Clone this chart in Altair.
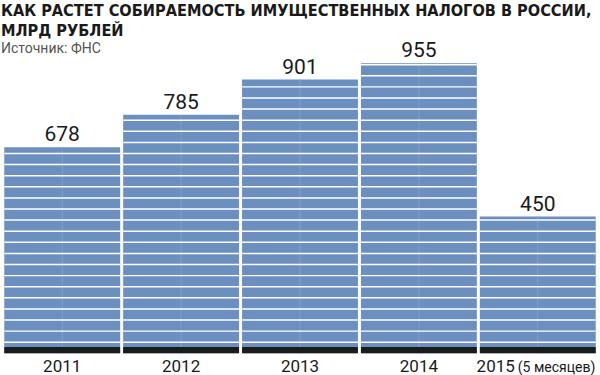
import altair as alt
import pandas as pd

# ---- data ----
years = ["2011", "2012", "2013", "2014", "2015"]
values = [678, 785, 901, 955, 450]
notes = ["", "", "", "", "(5 месяцев)"]

title_lines = ["КАК РАСТЕТ СОБИРАЕМОСТЬ ИМУЩЕСТВЕННЫХ НАЛОГОВ В РОССИИ,", "МЛРД РУБЛЕЙ"]
source_text = "Источник: ФНС"

df = pd.DataFrame({"year": years, "value": values, "note": notes})

# ---- style ----
STEP = 36.54          # stripe spacing (data units)
HALF = 2.4            # half stripe thickness (data units)
BAND = 21             # black foot band height (data units)
BLUE = "#6b8fbf"

# plot area deliberately extends slightly past the canvas edges
x = alt.X("year:N", axis=None, sort=years,
          scale=alt.Scale(paddingInner=0.0252, paddingOuter=0.1199))
ys = alt.Scale(domain=[-104.3, 1195.9], nice=False, zero=False)

base = alt.Chart(df)

bars = base.transform_calculate(zero="0").mark_bar(color=BLUE).encode(
    x=x, y=alt.Y("value:Q", axis=None, scale=ys), y2="zero:Q")

mid = base.transform_calculate(zero="0").mark_rule(
    color="#82a0c7", strokeWidth=1).encode(
    x=x, y=alt.Y("zero:Q", axis=None, scale=ys), y2="value:Q")

stripes = base.transform_calculate(
    s=f"sequence({STEP}, datum.value, {STEP})"
).transform_flatten(["s"]).transform_calculate(
    lo=f"datum.s - {HALF}", hi=f"datum.s + {HALF}"
).mark_bar(color="white").encode(
    x=x, y=alt.Y("lo:Q", axis=None, scale=ys), y2="hi:Q")

foot = base.transform_calculate(zero="0", top=str(BAND)).mark_bar(
    color="#1b1b1b").encode(
    x=x, y=alt.Y("zero:Q", axis=None, scale=ys), y2="top:Q")

vlabels = base.mark_text(font="Roboto", fontSize=21, color="#1a1a1a",
                         baseline="alphabetic", dy=-6).encode(
    x=x, y=alt.Y("value:Q", axis=None, scale=ys), text="value:Q")

YL = 381.7
ylab_main = base.transform_filter("datum.note == ''").mark_text(
    font="Roboto", fontSize=17, color="#1a1a1a", baseline="alphabetic"
).encode(x=x, y=alt.value(YL), text="year:N")

ylab_last = base.transform_filter("datum.note != ''").mark_text(
    font="Roboto", fontSize=17, color="#1a1a1a", baseline="alphabetic",
    align="right", dx=-23
).encode(x=x, y=alt.value(YL), text="year:N")

ylab_note = base.transform_filter("datum.note != ''").mark_text(
    font="Roboto", fontSize=14, color="#1a1a1a", baseline="alphabetic",
    align="left", dx=-20
).encode(x=x, y=alt.value(YL), text="note:N")

chart = alt.layer(bars, mid, stripes, foot, vlabels, ylab_main, ylab_last, ylab_note).properties(
    width=620, height=395,
    background="white",
    padding={"left": -10, "top": -10, "right": -10, "bottom": -10},
    autosize=alt.AutoSizeParams(type="none"),
    title=alt.TitleParams(
        text=title_lines, subtitle=source_text, anchor="start",
        font="DejaVu Sans Condensed", fontSize=16.2, fontWeight="bold",
        color="#1a1a1a", lineHeight=20, limit=800,
        subtitleFont="Roboto", subtitleFontSize=14, subtitleColor="#555555",
        subtitlePadding=3, offset=-66, dx=11,
    ),
).configure_view(strokeWidth=0, stroke="transparent")

chart.save("out.html", embed_options={"renderer": "svg", "actions": False})
